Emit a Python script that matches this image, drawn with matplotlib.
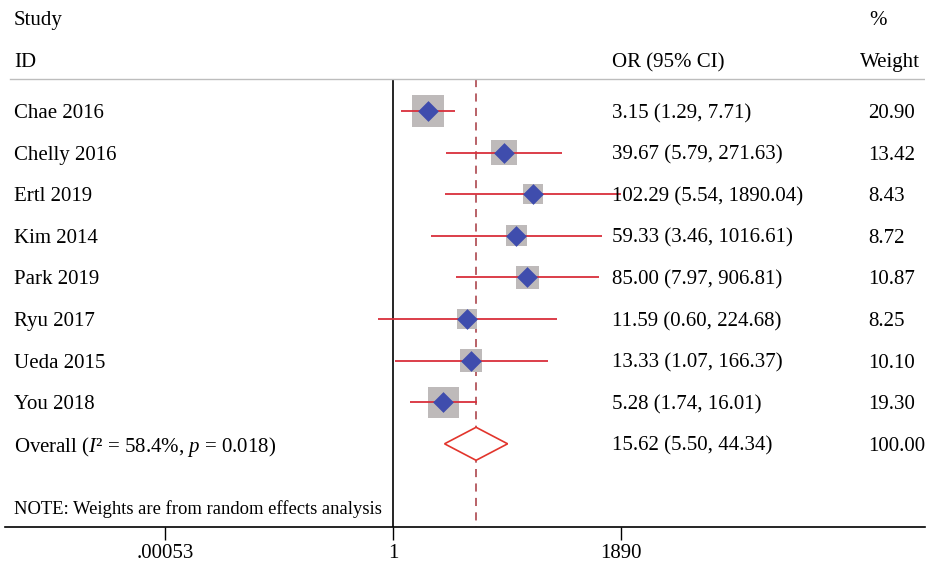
import matplotlib
matplotlib.use("Agg")
import matplotlib.pyplot as plt
from matplotlib.patches import Polygon
import numpy as np

plt.rcParams['font.family'] = ['Liberation Serif', 'DejaVu Serif']
plt.rcParams['mathtext.fontset'] = 'custom'
plt.rcParams['mathtext.rm'] = 'Liberation Serif'
plt.rcParams['mathtext.it'] = 'Liberation Serif:italic'

studies = ["Chae 2016", "Chelly 2016", "Ertl 2019", "Kim 2014", "Park 2019",
           "Ryu 2017", "Ueda 2015", "You 2018"]
or_est = [3.15, 39.67, 102.29, 59.33, 85.00, 11.59, 13.33, 5.28]
ci_low = [1.29, 5.79, 5.54, 3.46, 7.97, 0.60, 1.07, 1.74]
ci_high = [7.71, 271.63, 1890.04, 1016.61, 906.81, 224.68, 166.37, 16.01]
weights = [20.90, 13.42, 8.43, 8.72, 10.87, 8.25, 10.10, 19.30]
overall_label = "Overall ($I$² = 58.4%, $p$ = 0.018)"
overall_or = 15.62
overall_low = 5.50
overall_high = 44.34
overall_weight = 100.00
tick_vals = [0.00053, 1, 1890]
tick_labels = [".00053", "1", "1890"]

W, H = 927, 565
fig = plt.figure(figsize=(W / 100, H / 100), dpi=100)
# axes from pixel x 5..925, y 5..527 (top-origin)
ax = fig.add_axes([5 / W, (H - 527) / H, 920 / W, (527 - 5) / H])

px_per_dec = 69.6
x0 = 393
ax.set_xscale('log')
ax.set_xlim(10 ** ((5 - x0) / px_per_dec), 10 ** ((925 - x0) / px_per_dec))
row0, rstep = 111, 41.6
def row(py):
    return (py - row0) / rstep
ax.set_ylim(row(527), row(5))

n = len(studies)
ys = np.arange(n)
fs = 15
ci_col = '#D92F3B'
sq_col = '#BEBABA'
dia_col = '#3F4DAD'

# CI lines
ax.hlines(ys, ci_low, ci_high, color=ci_col, lw=1.3, zorder=3)
# weight squares
ax.scatter(or_est, ys, s=np.array(weights) * 25.4, marker='s', color=sq_col,
           linewidths=0, zorder=2)
# point estimates
ax.scatter(or_est, ys, s=112, marker='D', color=dia_col,
           linewidths=0, zorder=4)

# reference lines
ytop = row(79)
ax.vlines(1, ytop, row(527), color='black', lw=1.2, zorder=1)
ax.vlines(overall_or, ytop, row(527), color='#B3555C', lw=1.3,
          linestyles=(0, (4.5, 3.5)), zorder=1)

# overall diamond
yo = n
hh = 16.5 / rstep
poly = Polygon([(overall_low, yo), (overall_or, yo - hh), (overall_high, yo),
                (overall_or, yo + hh)], closed=True, facecolor='white',
               edgecolor='#E2352C', lw=1.2, zorder=5)
ax.add_patch(poly)

# header line
ax.axhline(row(79), xmin=(10 - 5) / 920, xmax=1, color='#BDBDBD', lw=1.0)

def fx(px):
    return (px - 5) / 920

tr = ax.get_yaxis_transform()  # x in axes fraction, y in data
va = 'center_baseline'
def txt(px, y, s, size=fs, ha='left'):
    ax.text(fx(px), y, s, transform=tr, fontsize=size, va=va, ha=ha)

txt(14, row(18), "Study")
txt(14, row(60), "ID")
txt(612, row(60), "OR (95% CI)")
txt(877.5, row(18), "%", ha='center')
txt(860, row(60), "Weight")

for i in range(n):
    txt(14, i, studies[i])
    txt(612, i, f"{or_est[i]:.2f} ({ci_low[i]:.2f}, {ci_high[i]:.2f})")
    txt(868, i, f"{weights[i]:.2f}")

txt(14, yo, overall_label)
txt(612, yo, f"{overall_or:.2f} ({overall_low:.2f}, {overall_high:.2f})")
txt(868, yo, f"{overall_weight:.2f}")
txt(14, row(507), "NOTE: Weights are from random effects analysis", size=13.4)

for s in ['top', 'right', 'left']:
    ax.spines[s].set_visible(False)
ax.spines['bottom'].set_linewidth(1.2)
ax.set_yticks([])
ax.set_xticks(tick_vals)
ax.set_xticklabels(tick_labels)
ax.xaxis.set_minor_locator(matplotlib.ticker.NullLocator())
ax.tick_params(axis='x', length=9, width=1.0, labelsize=fs, pad=3)

fig.savefig("out.png", dpi=100)
